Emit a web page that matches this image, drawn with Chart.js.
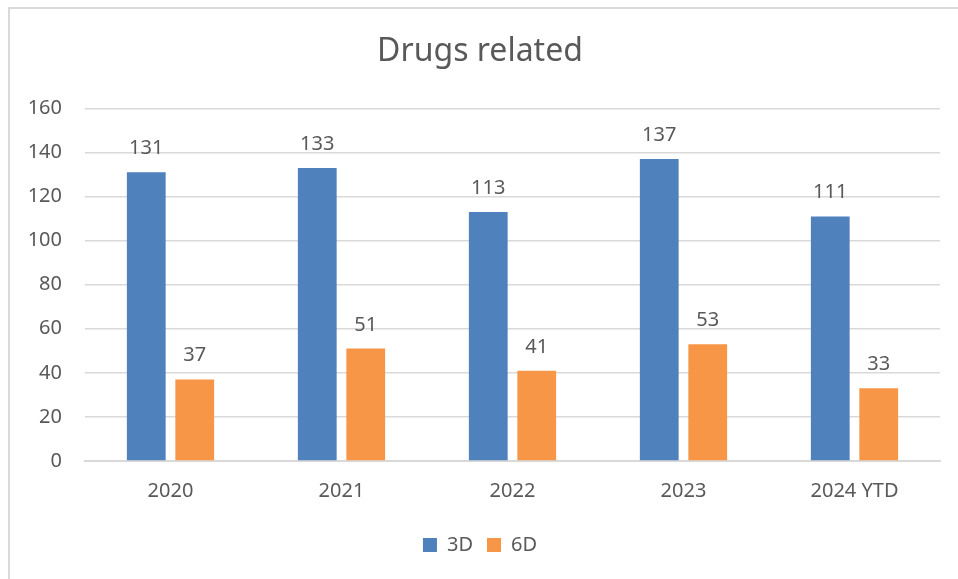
<!DOCTYPE html>
<html>
<head>
<meta charset="utf-8">
<script src="https://cdn.jsdelivr.net/npm/chart.js@4/dist/chart.umd.min.js"></script>
<style>
    html, body { margin: 0; padding: 0; background: #fff; }
    #wrap { position: relative; width: 958px; height: 579px; overflow: hidden; }
    #frame { position: absolute; left: 8px; top: 7px; width: 1000px; height: 600px;
             border-top: 2px solid #D9D9D9; border-left: 2px solid #D9D9D9; }
    canvas { position: absolute; left: 0; top: 0; }
</style>
</head>
<body>
<div id="wrap">
    <div id="frame"></div>
    <canvas id="chart" width="958" height="579"></canvas>
</div>
<script>
// --- data ---
const categories = ['2020', '2021', '2022', '2023', '2024 YTD'];
const values3D = [131, 133, 113, 137, 111];
const values6D = [37, 51, 41, 53, 33];
const seriesNames = ['3D', '6D'];
const seriesColors = ['#4F81BD', '#F79646'];

const textColor = '#595959';
const gridColor = '#D9D9D9';
const fontFamily = '"Noto Sans", sans-serif';

// value labels above each bar
const barLabels = {
    id: 'barLabels',
    afterDatasetsDraw(chart) {
        const ctx = chart.ctx;
        ctx.save();
        ctx.font = '20px ' + fontFamily;
        ctx.fillStyle = textColor;
        ctx.textAlign = 'center';
        ctx.textBaseline = 'alphabetic';
        chart.data.datasets.forEach((ds, i) => {
            chart.getDatasetMeta(i).data.forEach((bar, j) => {
                ctx.fillText(ds.data[j], bar.x, bar.y - 18);
            });
        });
        ctx.restore();
    }
};

const ctx = document.getElementById('chart').getContext('2d');
new Chart(ctx, {
    type: 'bar',
    data: {
        labels: categories,
        datasets: [
            { label: seriesNames[0], data: values3D, backgroundColor: seriesColors[0] },
            { label: seriesNames[1], data: values6D, backgroundColor: seriesColors[1] }
        ]
    },
    options: {
        responsive: false,
        animation: false,
        layout: { padding: { left: 20, right: 18, top: 20, bottom: 14 } },
        datasets: { bar: { categoryPercentage: 0.567, barPercentage: 0.8 } },
        plugins: {
            title: {
                display: true,
                text: 'Drugs related',
                color: textColor,
                font: { family: fontFamily, size: 32, weight: 'normal' },
                padding: { top: 13, bottom: 37 }
            },
            legend: {
                position: 'bottom',
                labels: {
                    color: textColor,
                    font: { family: fontFamily, size: 20 },
                    boxWidth: 14,
                    boxHeight: 14,
                    padding: 14
                }
            },
            tooltip: { enabled: false }
        },
        scales: {
            x: {
                grid: { display: false, drawTicks: false },
                border: { display: true, color: gridColor, width: 2 },
                ticks: { color: textColor, font: { family: fontFamily, size: 20 }, padding: 18 }
            },
            y: {
                min: 0,
                max: 160,
                afterFit(scale) { scale.width = 65; },
                grid: { color: gridColor, lineWidth: 1.5, drawTicks: false },
                border: { display: false },
                ticks: { stepSize: 20, color: textColor, font: { family: fontFamily, size: 20 }, padding: 23 }
            }
        }
    },
    plugins: [barLabels]
});
</script>
</body>
</html>
